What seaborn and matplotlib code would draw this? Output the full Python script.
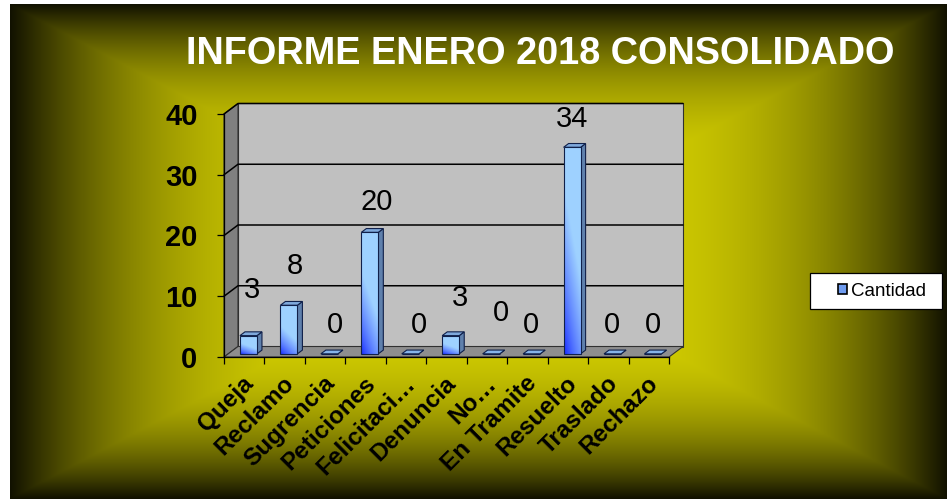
import numpy as np
import pandas as pd
import matplotlib
matplotlib.use("Agg")
import matplotlib.pyplot as plt
import matplotlib.transforms as mtransforms
from matplotlib.patches import Polygon, Rectangle, Patch
import seaborn as sns

# ---------------- data ----------------
categories = ["Queja", "Reclamo", "Sugrencia", "Peticiones", "Felicitaci…",
              "Denuncia", "No…", "En Tramite", "Resuelto", "Traslado", "Rechazo"]
values = [3, 8, 0, 20, 0, 3, 0, 0, 34, 0, 0]
y_ticks = [0, 10, 20, 30, 40]
title_text = "INFORME ENERO 2018 CONSOLIDADO"
series_name = "Cantidad"

# ---------------- style ----------------
label_dx = [8, 10, 10, 11, 13, 13.5, 14, 4, 4, 4, 4]      # px nudges of value labels
label_dy = [45, 38, 28, 29, 28, 37, 40, 28, 27, 28, 28]
W, H, DPI = 947, 499, 100
FONT = "Liberation Sans"

sns.set_theme(style="white")
plt.rcParams["font.family"] = [FONT, "DejaVu Sans"]
plt.rcParams["text.color"] = "black"
plt.rcParams["xtick.color"] = "black"
plt.rcParams["ytick.color"] = "black"
plt.rcParams["axes.labelcolor"] = "black"

fig = plt.figure(figsize=(W / DPI, H / DPI), dpi=DPI, facecolor="white")

# ---------------- background gradient ----------------
bg = fig.add_axes([0, 0, 1, 1], zorder=-10)
bg.set_xlim(0, W)
bg.set_ylim(H, 0)
bg.axis("off")
x0, x1, y0, y1 = 10, W, 4, H
xs = np.linspace(x0, x1, 600)
ys = np.linspace(y0, y1, 320)
X, Y = np.meshgrid(xs, ys)
cx, cy = (x0 + x1) / 2, (y0 + y1) / 2
t = np.maximum(np.abs(X - cx) / ((x1 - x0) / 2), np.abs(Y - cy) / ((y1 - y0) / 2))
f = 1 - np.clip(t, 0, 1) ** 3.0
c_center = np.array([0.86, 0.84, 0.0])
c_edge = np.array([0.07, 0.07, 0.0])
img = c_edge + (c_center - c_edge) * f[..., None]
bg.imshow(img, extent=[x0, x1, y1, y0], aspect="auto", interpolation="bilinear")

# ---------------- main axes (front plane) ----------------
L, R, T, B = 224, 669, 114, 357
ax = fig.add_axes([L / W, 1 - B / H, (R - L) / W, (B - T) / H])
ax.patch.set_alpha(0)

df = pd.DataFrame({"cat": categories, "val": values})
sns.barplot(data=df, x="cat", y="val", ax=ax, width=0.42, color="#88b8ff",
            order=categories)
ax.set_xlim(-0.5, len(categories) - 0.5)
ax.set_ylim(0, 40)
ax.set_xlabel("")
ax.set_ylabel("")

n = len(categories)
px_per_x = (R - L) / n
px_per_y = (B - T) / 40
DX = 14 / px_per_x
DY = 10.5 / px_per_y

# walls
wall_kw = dict(clip_on=False, zorder=0.2, linewidth=0.8, edgecolor="#303030")
ax.add_patch(Polygon([(-0.5 + DX, DY), (n - 0.5 + DX, DY), (n - 0.5 + DX, 40 + DY),
                      (-0.5 + DX, 40 + DY)], closed=True, facecolor="#c0c0c0", **wall_kw))
ax.add_patch(Polygon([(-0.5, 0), (-0.5 + DX, DY), (-0.5 + DX, 40 + DY), (-0.5, 40)],
                     closed=True, facecolor="#808080", **wall_kw))
ax.add_patch(Polygon([(-0.5, 0), (n - 0.5, 0), (n - 0.5 + DX, DY), (-0.5 + DX, DY)],
                     closed=True, facecolor="#8e8e8e", **wall_kw))
for v in y_ticks[1:]:
    ax.plot([-0.5, -0.5 + DX, n - 0.5 + DX], [v, v + DY, v + DY], color="black",
            lw=1.1, clip_on=False, zorder=0.5)

# bars (3D faces)
f0, f1 = 0.3, 0.66
dark = np.array([0.05, 0.12, 1.0])
light = np.array([0.62, 0.82, 1.0])
bars = [pp for pp in ax.patches if isinstance(pp, Rectangle)][:n]
for i, p in enumerate(bars):
    ox, oy = f0 * DX, f0 * DY
    ddx, ddy = (f1 - f0) * DX, (f1 - f0) * DY
    bx, bw, bh = p.get_x(), p.get_width(), p.get_height()
    p.set_transform(mtransforms.Affine2D().translate(ox, oy) + ax.transData)
    p.set_facecolor("none")
    p.set_edgecolor("#10204a")
    p.set_linewidth(0.8)
    p.set_zorder(3.6)
    p.set_clip_on(False)
    xl, xr = bx + ox, bx + bw + ox
    yb, yt = oy, bh + oy
    # side face
    ax.add_patch(Polygon([(xr, yb), (xr + ddx, yb + ddy), (xr + ddx, yt + ddy), (xr, yt)],
                         closed=True, facecolor="#5f80ac", edgecolor="#10204a",
                         lw=0.8, zorder=3.4, clip_on=False))
    # top face
    ax.add_patch(Polygon([(xl, yt), (xr, yt), (xr + ddx, yt + ddy), (xl + ddx, yt + ddy)],
                         closed=True, facecolor="#7fa9dc" if bh > 0 else "#86b4ea",
                         edgecolor="#10204a", lw=0.8, zorder=3.4, clip_on=False))
    # gradient front face
    if bh > 0:
        u = np.linspace(0, 1, 40)[None, :]
        vv = np.linspace(0, 1, 200)[:, None]
        tt = np.clip(0.55 * u + 1.7 * vv * min(1, 12 / max(bh, 1)) ** 0.3, 0, 1) ** 0.7
        gimg = dark + (light - dark) * tt[..., None]
        im = ax.imshow(gimg, extent=[xl, xr, yb, yt], origin="lower", aspect="auto",
                       zorder=3.5, interpolation="bilinear")
        im.set_clip_path(p)

ax.set_xlim(-0.5, n - 0.5)
ax.set_ylim(0, 40)

# value labels
for i, v in enumerate(values):
    ax.annotate(str(v), xy=(i, v), xytext=(label_dx[i], label_dy[i] + 4),
                textcoords="offset pixels", ha="center", va="center",
                fontsize=21, color="black", zorder=6, annotation_clip=False)

# spines & ticks
for s in ["top", "right"]:
    ax.spines[s].set_visible(False)
for s in ["left", "bottom"]:
    ax.spines[s].set_visible(True)
    ax.spines[s].set_color("black")
    ax.spines[s].set_linewidth(0.9)
    ax.spines[s].set_zorder(1)
ax.set_yticks(y_ticks)
ax.set_yticklabels([str(v) for v in y_ticks], fontsize=21, fontweight="bold",
                   color="black")
ax.tick_params(axis="y", direction="out", length=5, width=0.9, color="black",
               pad=14, left=True)
ax.set_xticks(range(n))
ax.set_xticklabels(categories, rotation=45, ha="right", rotation_mode="anchor",
                   va="center", fontsize=17.5, fontweight="bold", color="black")
ax.tick_params(axis="x", length=0, pad=16.5)
ax.set_xticks(np.arange(-0.5, n, 1), minor=True)
ax.tick_params(axis="x", which="minor", direction="out", length=5, width=0.9,
               color="black", bottom=True)
shift = mtransforms.ScaledTranslation(6 / DPI, 0, fig.dpi_scale_trans)
for lab in ax.get_xticklabels():
    lab.set_transform(lab.get_transform() + shift)

# title
fig.text(540 / W, 1 - 54 / H, title_text, ha="center", va="center", color="white",
         fontsize=27.3, fontweight="bold")

# legend
fig.patches.append(Rectangle((810 / W, 1 - 309 / H), 132 / W, 36 / H,
                             transform=fig.transFigure, facecolor="white",
                             edgecolor="black", lw=0.9, zorder=5))
leg = fig.legend(handles=[Patch(facecolor="#6f9cf0", edgecolor="black", lw=1.2,
                                label=series_name)],
                 loc="center", bbox_to_anchor=(882 / W, 1 - 291 / H), frameon=False,
                 fontsize=13.5, handlelength=0.5, handleheight=0.5, handletextpad=0.2,
                 labelcolor="black")
leg.set_zorder(6)

fig.savefig("out.png", dpi=DPI, facecolor="white")
